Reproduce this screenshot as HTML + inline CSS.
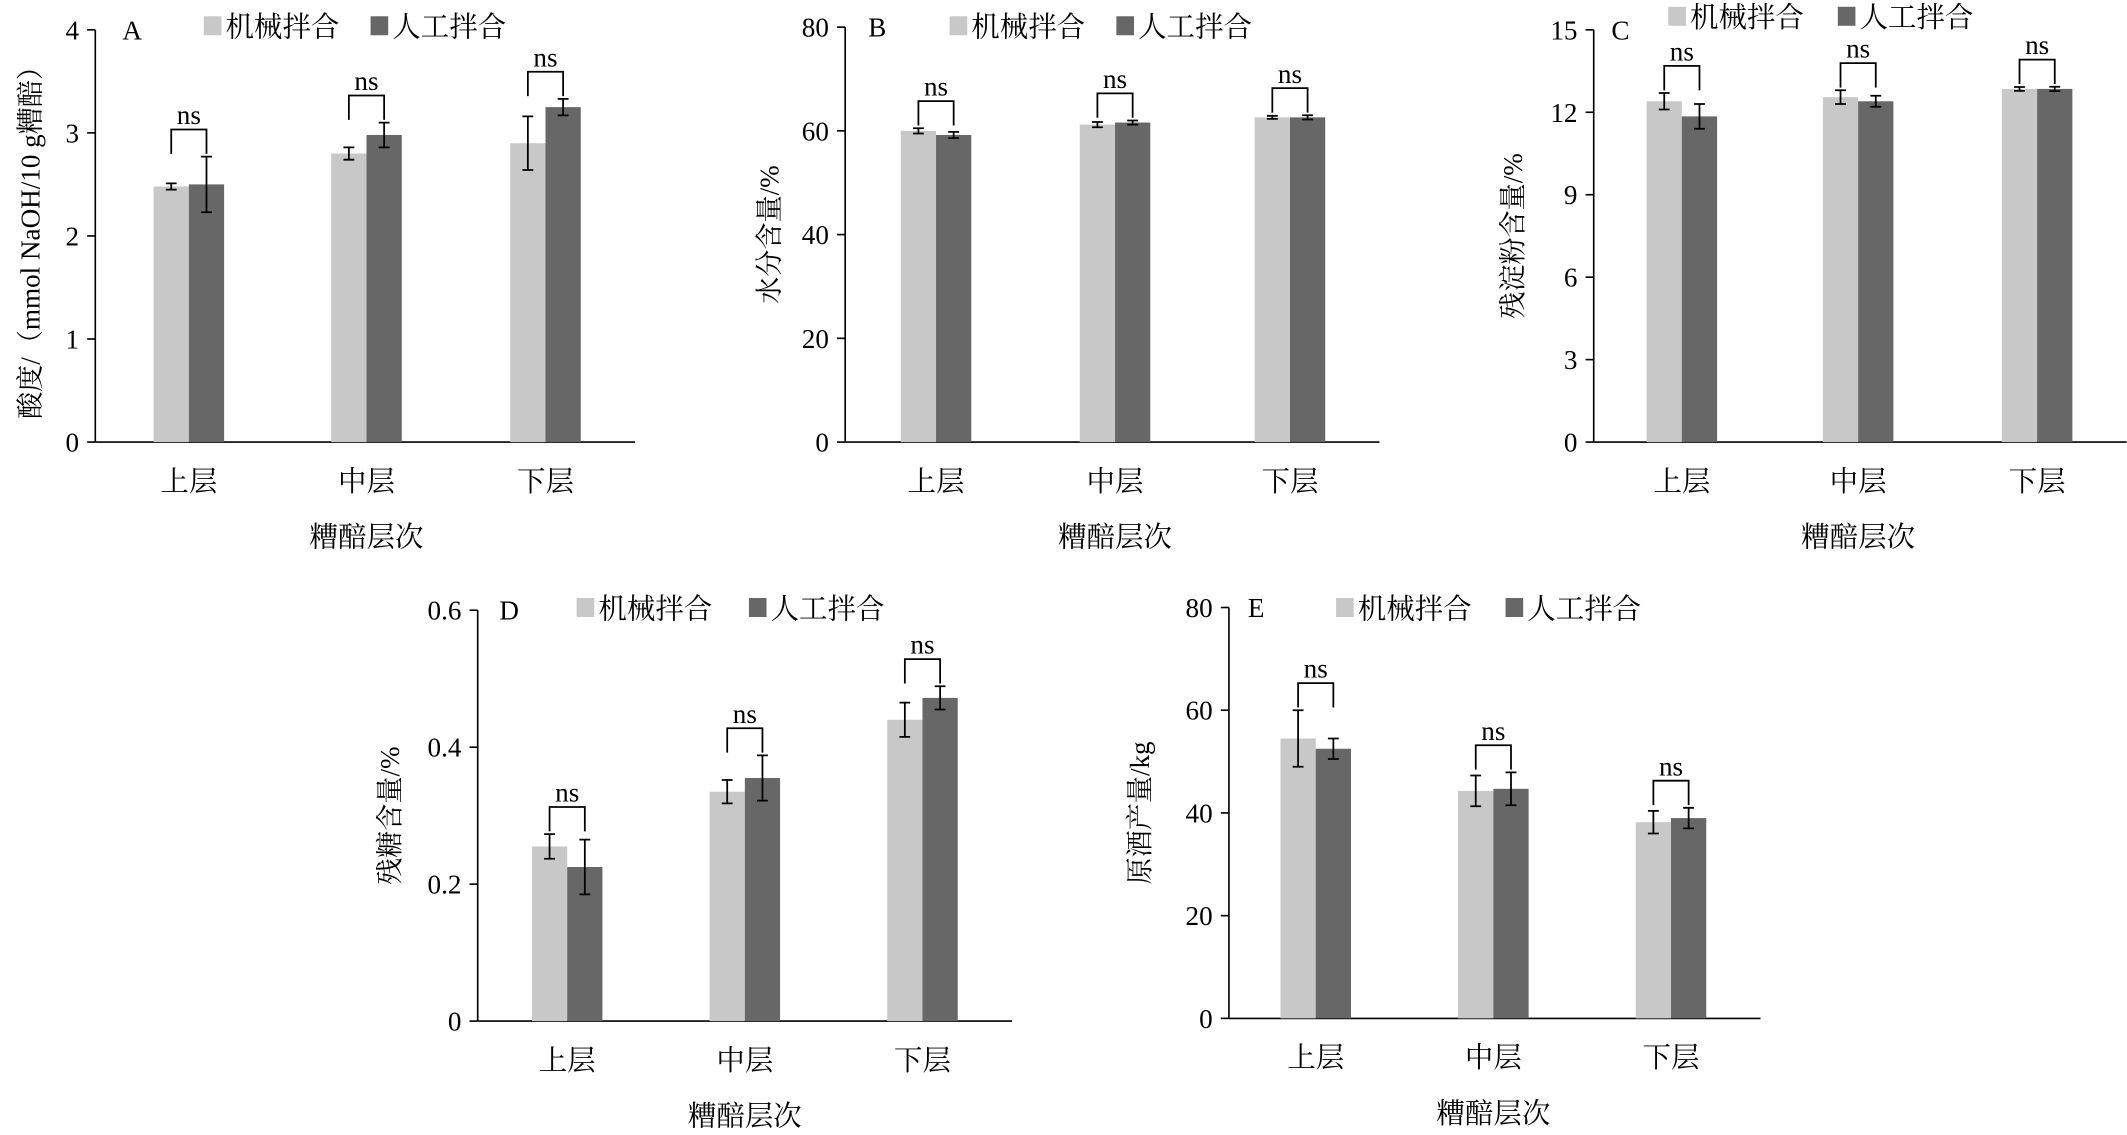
<!DOCTYPE html>
<html><head><meta charset="utf-8"><style>
html,body{margin:0;padding:0;background:#fff;}
svg{display:block;}
text{font-family:"Liberation Serif","Noto Serif CJK SC","Noto Sans CJK SC",serif;fill:#000;}
</style></head><body>
<svg id="s" width="2127" height="1135" viewBox="0 0 1568 837" xmlns="http://www.w3.org/2000/svg"></svg>
<script>
const S=document.getElementById('s');let h='';
const panels=[
 {ax:70,top:22,bot:326,max:4,ticks:[0,1,2,3,4],c:[139,270,402],L:'A',lx:90,ylab:'酸度/（mmol NaOH/10 g糟醅）',ylx:22,
  v:[[2.48,.03,2.5,.27],[2.8,.06,2.98,.12],[2.9,.26,3.25,.08]],leg:[150,273],legy:19},
 {ax:623,top:20,bot:326,max:80,ticks:[0,20,40,60,80],c:[690,822,951],L:'B',lx:640,ylab:'水分含量/%',ylx:567,
  v:[[60,.5,59.2,.6],[61.2,.5,61.6,.4],[62.6,.3,62.6,.4]],leg:[700,823],legy:19},
 {ax:1175,top:22,bot:326,max:15,ticks:[0,3,6,9,12,15],c:[1240,1370,1502],L:'C',lx:1188,ylab:'残淀粉含量/%',ylx:1115,
  v:[[12.4,.3,11.85,.45],[12.55,.25,12.4,.2],[12.85,.07,12.85,.08]],leg:[1230,1355],legy:12},
 {ax:352,top:450,bot:753,max:.6,ticks:[0,.2,.4,.6],c:[418,549,680],L:'D',lx:368,ylab:'残糖含量/%',ylx:287,
  v:[[.255,.018,.225,.04],[.335,.017,.355,.033],[.44,.025,.472,.017]],leg:[425,552],legy:448},
 {ax:906,top:448,bot:751,max:80,ticks:[0,20,40,60,80],c:[970,1101,1232],L:'E',lx:920,ylab:'原酒产量/kg',ylx:840,
  v:[[54.5,5.5,52.5,2],[44.3,3,44.7,3.2],[38.2,2.2,39,2]],leg:[985,1110],legy:448}
];
const cats=['上层','中层','下层'];
panels.forEach(p=>{
 const Y=v=>p.bot-(v/p.max)*(p.bot-p.top);
 const right=p.c[2]+66;
 h+=`<line x1="${p.ax}" y1="${p.top}" x2="${p.ax}" y2="${p.bot}" stroke="#000" stroke-width="1.2"/>`;
 h+=`<line x1="${p.ax}" y1="${p.bot}" x2="${right}" y2="${p.bot}" stroke="#000" stroke-width="1.2"/>`;
 p.ticks.forEach(t=>{const y=Y(t);h+=`<line x1="${p.ax-6}" y1="${y}" x2="${p.ax}" y2="${y}" stroke="#000" stroke-width="1.2"/>`;
  h+=`<text x="${p.ax-12}" y="${y+7}" font-size="20" text-anchor="end">${t}</text>`;});
 p.v.forEach((d,i)=>{const cx=p.c[i];
  const bars=[[cx-26,d[0],d[1],'#c8c8c8'],[cx,d[2],d[3],'#676767']];
  let mt=1e9;
  bars.forEach(b=>{const y=Y(b[1]);h+=`<rect x="${b[0]}" y="${y}" width="26" height="${p.bot-y}" fill="${b[3]}"/>`;
   const m=b[0]+13,y1=Y(b[1]+b[2]),y2=Y(b[1]-b[2]);mt=Math.min(mt,y1);
   h+=`<path d="M${m} ${y1}V${y2}M${m-4} ${y1}H${m+4}M${m-4} ${y2}H${m+4}" stroke="#000" stroke-width="1.3" fill="none"/>`;});
  const bt=mt-20;
  h+=`<path d="M${cx-13} ${bt+18}V${bt}H${cx+13}V${bt+18}" stroke="#000" stroke-width="1.3" fill="none"/>`;
  h+=`<text x="${cx}" y="${bt-4}" font-size="20" text-anchor="middle">ns</text>`;
  h+=`<text x="${cx}" y="${p.bot+36}" font-size="21" text-anchor="middle">${cats[i]}</text>`;
 });
 h+=`<text x="${p.c[1]}" y="${p.bot+77}" font-size="21" text-anchor="middle">糟醅层次</text>`;
 h+=`<text x="${p.lx}" y="${p.top+7}" font-size="20">${p.L}</text>`;
 h+=`<rect x="${p.leg[0]}" y="${p.legy-7}" width="13" height="14" fill="#c8c8c8"/><text x="${p.leg[0]+16}" y="${p.legy+8}" font-size="21">机械拌合</text>`;
 h+=`<rect x="${p.leg[1]}" y="${p.legy-7}" width="13" height="14" fill="#676767"/><text x="${p.leg[1]+16}" y="${p.legy+8}" font-size="21">人工拌合</text>`;
 const my=(p.top+p.bot)/2;
 h+=`<text transform="translate(${p.ylx+7},${my}) rotate(-90)" font-size="20" text-anchor="middle">${p.ylab}</text>`;
});
S.innerHTML=h;
</script>
</body></html>
